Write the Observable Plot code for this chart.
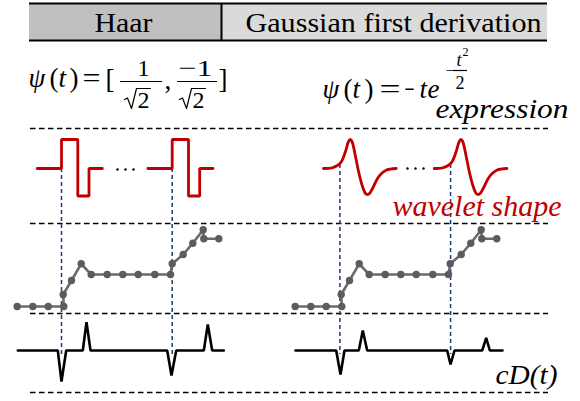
<!DOCTYPE html>
<html><head><meta charset="utf-8">
<script src="https://cdn.jsdelivr.net/npm/d3@7"></script>
<script src="https://cdn.jsdelivr.net/npm/@observablehq/plot@0.6"></script>
<style>
body{margin:0;background:#fff;}
svg{display:block;}
</style>
</head><body><div id="chart"></div>
<script>
// ---------------- data ----------------
const panels = ["Haar", "Gaussian first derivation"];
const eventTimes = [61, 171.7];                       // change points of the signal
// sampled signal (time, level)
const signalT = [16.7,32.3,47.7,63.3,62.7,71,80.7,90.7,106.7,122.3,137.7,154.3,170,171.7,182.7,192.3,202.7,203.3,218.3];
const signalV = [0,0,0,0,12,26,42.7,32,32,32,32,32,32,42.7,52,63.3,76.7,67.7,67.7];
// wavelet shapes (time offset from change point, amplitude)
const haarT = [-24.3,0,0,16.3,16.3,27.5,27.5,40.8];
const haarV = [0,0,29,29,-27.5,-27.5,0,0];
const gaussT = [-16,-8,-2,2,6,9,10.7,12.5,16,19.5,23,26,28,30,34,38,42,47,56.7];
const gaussV = [0,0.5,3,7,17,27,29,27,12,-5,-18,-25,-26,-25,-18,-10,-5,-1.5,0];
// detail coefficients cD(t)
const cdHaarT = [17.3,57.3,61,65.7,82.3,86,90,166.7,171,175.7,203.3,207.3,211.7,223.3];
const cdHaarV = [0,0,-31,0,0,28.3,0,0,-25,0,0,26,0,0];
const cdGaussT = [17,57.7,62,66,80.3,84.3,88.7,168.7,172,176,203.7,207.7,211.3,224];
const cdGaussV = [0,0,-24,0,0,20,0,0,-14,0,0,12.7,0,0];
const rowLabels = ["expression", "wavelet shape", "cD(t)"];

// ---------------- layout ----------------
const W = 580, H = 401;
const panelOffset = [0, 278];
const waveBase = 168, signalBase = 306, cdBase = 350;
const left = 30, right = 548;
const separators = [128, 223, 313, 392];

const signal = [];
panels.forEach((p, k) => signalT.forEach((t, i) => signal.push({panel: p, x: panelOffset[k] + t, y: signalBase - signalV[i]})));

const haarLines = [], gaussLines = [];
eventTimes.forEach((e, j) => {
  haarT.forEach((t, i) => haarLines.push({copy: j, x: panelOffset[0] + e + t, y: waveBase - haarV[i]}));
  gaussT.forEach((t, i) => gaussLines.push({copy: j, x: panelOffset[1] + e + t, y: waveBase - gaussV[i]}));
});

const cd = [];
cdHaarT.forEach((t, i) => cd.push({panel: panels[0], x: panelOffset[0] + t, y: cdBase - cdHaarV[i]}));
cdGaussT.forEach((t, i) => cd.push({panel: panels[1], x: panelOffset[1] + t, y: cdBase - cdGaussV[i]}));

const guides = [];
panels.forEach((p, k) => eventTimes.forEach(e => guides.push({x: panelOffset[k] + e + (k ? 0.4 : 0), y1: waveBase - (k ? 4 : 0), y2: cdBase + 4})));

const headerCells = [
  {x1: 29, x2: 221, fill: "#c0c0c0"},
  {x1: 221, x2: 547, fill: "#dadada"}
];

// text pieces
const romanTexts = [
  {text: panels[0], x: 94, y: 31.5, size: 28, w: 58},
  {text: panels[1], x: 245, y: 31.5, size: 28, w: 296},
  {text: "(", x: 49, y: 86, size: 27},
  {text: ")", x: 69, y: 86, size: 27},
  {text: "=", x: 82, y: 86, size: 27, w: 18},
  {text: "[", x: 105, y: 87, size: 27},
  {text: ",", x: 164, y: 88, size: 27},
  {text: "]", x: 218, y: 87, size: 27},
  {text: "1", x: 137, y: 75, size: 24},
  {text: "\u22121", x: 178, y: 75, size: 24, w: 34},
  {text: "2", x: 137, y: 107, size: 24},
  {text: "2", x: 192, y: 107, size: 24},
  {text: "(", x: 343, y: 97, size: 27},
  {text: ")", x: 364, y: 97, size: 27},
  {text: "=", x: 379, y: 97, size: 27, w: 21},
  {text: "\u2212", x: 404, y: 97, size: 27, w: 10},
  {text: "\u2212", x: 445, y: 75.5, size: 17},
  {text: "2", x: 462, y: 55, size: 12},
  {text: "2", x: 455, y: 88, size: 18}
];
const italicTexts = [
  {text: "\u03c8", x: 28, y: 86, size: 27},
  {text: "t", x: 58, y: 86, size: 27},
  {text: "\u03c8", x: 322, y: 97, size: 27},
  {text: "t", x: 352, y: 97, size: 27},
  {text: "t", x: 419, y: 97, size: 27},
  {text: "e", x: 427, y: 97, size: 27},
  {text: "t", x: 456, y: 65, size: 18},
  {text: rowLabels[0], x: 435, y: 117, size: 27, w: 133},
  {text: rowLabels[2], x: 495, y: 383, size: 28, w: 62}
];
const redTexts = [
  {text: rowLabels[1], x: 392, y: 215, size: 29, w: 169}
];
// fraction bars and radicals of the formulas
const fracBars = [
  {x1: 120, x2: 162, y: 81},
  {x1: 177, x2: 217, y: 81},
  {x1: 453, x2: 467, y: 70}
];
const radicals = [];
[[124, 0], [179, 1]].forEach(([x0, k]) => {
  [[0, 99], [3, 97.5], [7, 108], [12, 88], [26, 88]].forEach(([dx, y]) => radicals.push({k, x: x0 + dx, y}));
});
const ellipsis = [117, 125, 133, 407, 415, 423].map((x, i) => ({x, y: i < 3 ? 169 : 168}));

const textMarkData = [romanTexts, italicTexts, redTexts];
const font = "Liberation Serif";

const chart = Plot.plot({
  width: W, height: H,
  margin: 0, marginTop: 0, marginRight: 0, marginBottom: 0, marginLeft: 0,
  x: {domain: [0, W], axis: null},
  y: {domain: [H, 0], axis: null},
  style: {background: "#fff", overflow: "visible", fontFamily: "'Liberation Serif', 'DejaVu Serif', serif"},
  marks: [
    Plot.rect(headerCells, {x1: "x1", x2: "x2", y1: 3, y2: 40, fill: "fill"}),
    Plot.ruleY([3, 40], {x1: 29, x2: 547, stroke: "#000", strokeWidth: 2.2}),
    Plot.ruleX([221], {y1: 3, y2: 40, stroke: "#000", strokeWidth: 2}),
    Plot.ruleY(separators, {x1: left, x2: right, stroke: "#000", strokeWidth: 1.6, strokeDasharray: "5.5,3.5"}),
    Plot.ruleX(guides, {x: "x", y1: "y1", y2: "y2", stroke: "#1f3a6e", strokeWidth: 1.5, strokeDasharray: "4,3"}),
    Plot.line(haarLines, {x: "x", y: "y", z: "copy", stroke: "#c00000", strokeWidth: 2.8, strokeLinejoin: "miter"}),
    Plot.line(gaussLines, {x: "x", y: "y", z: "copy", stroke: "#c00000", strokeWidth: 2.8, curve: "catmull-rom"}),
    Plot.dot(ellipsis, {x: "x", y: "y", r: 1.2, fill: "#000", stroke: null}),
    Plot.line(signal, {x: "x", y: "y", z: "panel", stroke: "#6a6a6a", strokeWidth: 2.6}),
    Plot.dot(signal, {x: "x", y: "y", r: 3.7, fill: "#5c5c5c", stroke: null}),
    Plot.line(cd, {x: "x", y: "y", z: "panel", stroke: "#000", strokeWidth: 2.6, strokeLinejoin: "miter"}),
    Plot.ruleY(fracBars, {y: "y", x1: "x1", x2: "x2", stroke: "#000", strokeWidth: 1.2}),
    Plot.line(radicals, {x: "x", y: "y", z: "k", stroke: "#000", strokeWidth: 1.2}),
    Plot.text(romanTexts, {x: "x", y: "y", text: "text", fontSize: "size", textAnchor: "start", lineAnchor: "bottom", fontFamily: font, fill: "#000"}),
    Plot.text(italicTexts, {x: "x", y: "y", text: "text", fontSize: "size", textAnchor: "start", lineAnchor: "bottom", fontFamily: font, fontStyle: "italic", fill: "#000"}),
    Plot.text(redTexts, {x: "x", y: "y", text: "text", fontSize: "size", textAnchor: "start", lineAnchor: "bottom", fontFamily: font, fontStyle: "italic", fill: "#c00000"})
  ]
});
document.getElementById("chart").appendChild(chart);

// stretch selected labels to the widths measured on the reference; pin the serif face
const groups = chart.querySelectorAll('g[aria-label="text"]');
textMarkData.forEach((data, gi) => {
  if (!groups[gi]) return;
  groups[gi].setAttribute("font-family", "Liberation Serif");
  groups[gi].querySelectorAll("text").forEach((n, i) => {
    n.setAttribute("font-family", "Liberation Serif");
    n.style.fontFamily = "'Liberation Serif', 'DejaVu Serif', serif";
    if (data[i] && data[i].w) {
      n.setAttribute("textLength", data[i].w);
      n.setAttribute("lengthAdjust", "spacingAndGlyphs");
    }
  });
});
</script>
</body></html>
